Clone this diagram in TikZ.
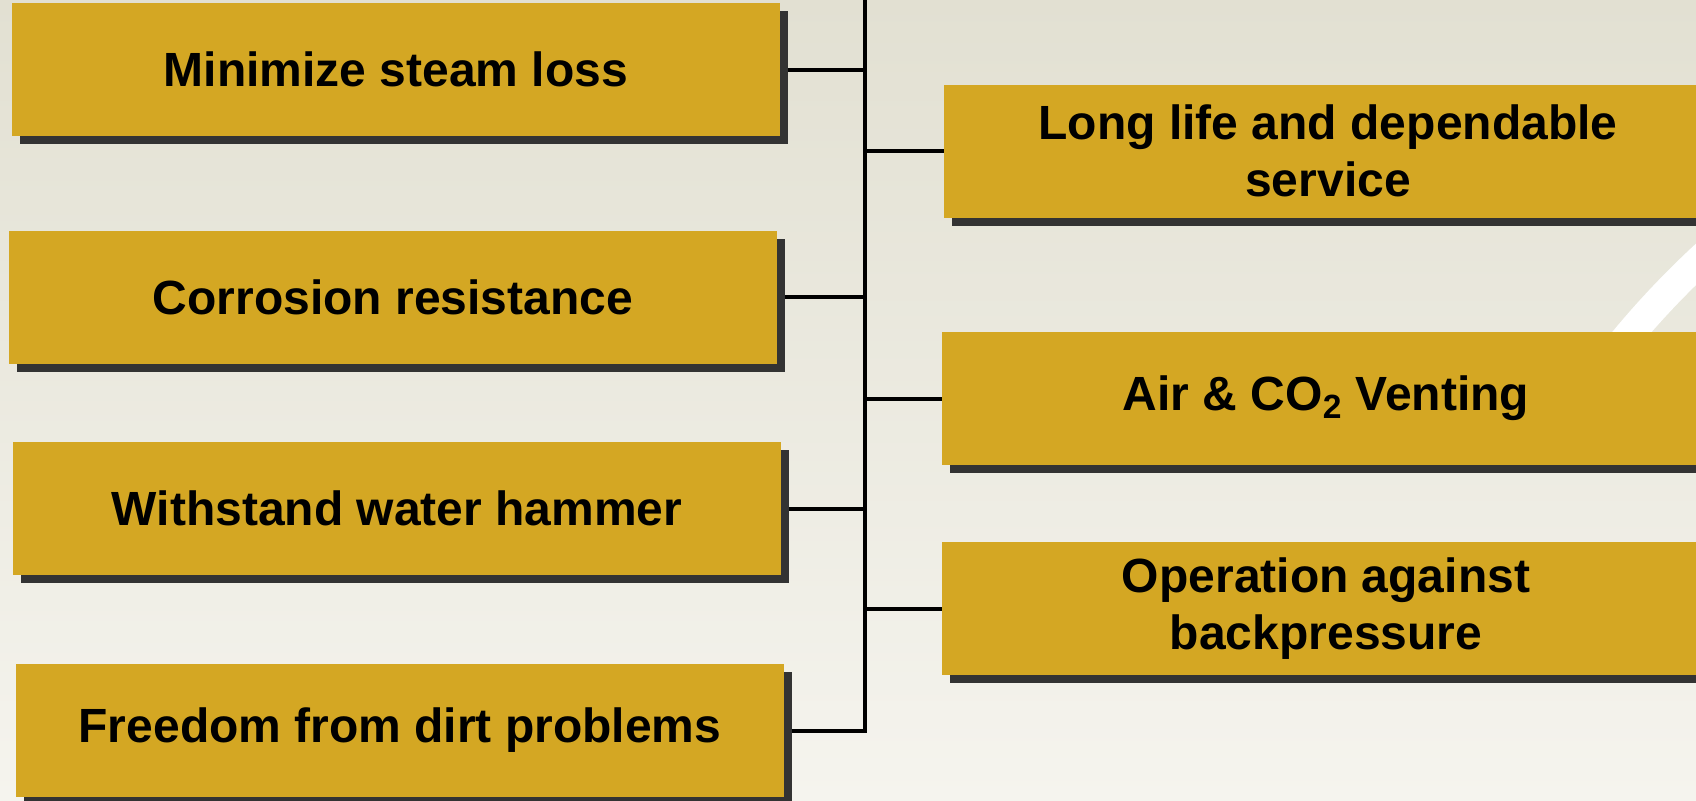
\documentclass[tikz,border=0pt]{standalone}
\usepackage{fontspec}
\setmainfont{Liberation Sans}
\usetikzlibrary{shadows}
\definecolor{boxgold}{RGB}{212,167,35}
\definecolor{shadowgray}{RGB}{51,51,51}
\definecolor{bgtop}{RGB}{226,224,210}
\definecolor{bgbottom}{RGB}{245,244,238}

\begin{document}
\begin{tikzpicture}[x=0.5pt,y=-0.5pt,
  goldbox/.style={fill=boxgold, minimum width=384pt, minimum height=66.5pt,
    inner sep=0pt, align=center, font=\fontsize{24}{28.5}\selectfont\bfseries,
    general shadow={fill=shadowgray, shadow xshift=4pt, shadow yshift=-4pt}},
  link/.style={black, line width=2pt}]
\useasboundingbox (0,0) rectangle (1696,800);
\clip (0,0) rectangle (1696,800);
\fill[top color=bgtop, bottom color=bgbottom] (0,0) rectangle (1696,800);
% white ring behind the right column
\begin{scope}
\clip (1500,226) rectangle (1696,332);
\draw[white, line width=15pt] (2300,900) circle (877);
\end{scope}
% left column
\node[goldbox] (steam) at (396,69.5) {Minimize steam loss};
\node[goldbox] (corrosion) at (393,297) {Corrosion resistance};
\node[goldbox] (hammer) at (397,508.5) {Withstand water hammer};
\node[goldbox] (dirt) at (400,730.5) {Freedom from dirt problems};
% right column
\node[goldbox] (life) at (1328,151) {Long life and dependable\\service};
\node[goldbox] (venting) at (1326,398.5) {Air \& CO\textsubscript{2} Venting};
\node[goldbox] (backpressure) at (1326,608.5) {Operation against\\backpressure};
% trunk and branches
\coordinate (trunktop) at (865,-5);
\draw[link] (trunktop) |- ([xshift=4pt]dirt.east);
\foreach \n in {steam,corrosion,hammer}
  \draw[link] ([xshift=4pt]\n.east) -- (\n.east -| trunktop);
\foreach \n in {life,venting,backpressure}
  \draw[link] (\n.west) -- (\n.west -| trunktop);
\end{tikzpicture}
\end{document}
